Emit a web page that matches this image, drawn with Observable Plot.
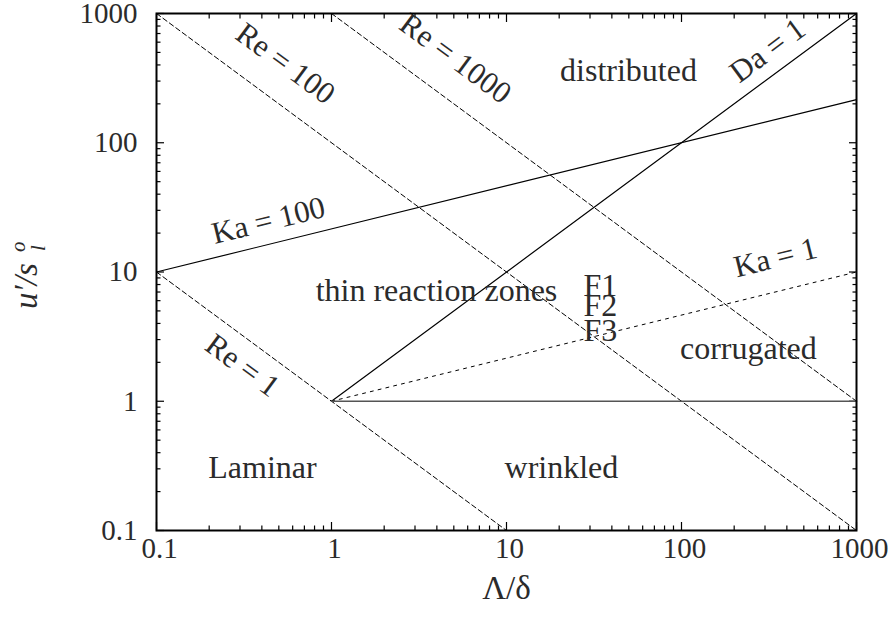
<!DOCTYPE html>
<html><head><meta charset="utf-8">
<script src="https://cdn.jsdelivr.net/npm/d3@7"></script>
<script src="https://cdn.jsdelivr.net/npm/@observablehq/plot@0.6"></script>
<style>body{margin:0;background:#fff} svg{display:block}</style>
</head><body><div id="chart"></div>
<script>
// axis ticks
const xTicks = [0.1, 1, 10, 100, 1000];
const yTicks = [0.1, 1, 10, 100, 1000];
const tickLabels = ["0.1", "1", "10", "100", "1000"];

// dashed Reynolds-number lines
const reNames = ["Re = 1", "Re = 100", "Re = 1000"];
const reX = [[0.1, 10], [0.1, 1000], [1, 1000]];
const reY = [[10, 0.1], [1000, 0.1], [1000, 1]];

// solid lines
const solidNames = ["Ka = 100", "Da = 1"];
const solidX = [[0.1, 1000], [1, 1000]];
const solidY = [[10, 215.4], [1, 1000]];

// dotted Ka = 1 line
const ka1X = [1, 1000];
const ka1Y = [1, 10];

// horizontal u'/s = 1 line
const unitX = [1, 1000];
const unitY = [1, 1];

// line labels
const lineLabels = ["Re = 100", "Re = 1000", "Re = 1", "Ka = 100", "Ka = 1", "Da = 1"];
const lineLabelX = [0.546, 5.11, 0.31, 0.436, 344, 310];
const lineLabelY = [410, 449, 1.89, 25.0, 12.9, 517];
const lineLabelAngle = [36.45, 36.45, 36.45, -13.85, -13.85, -36.45];

// region labels
const regionNames = ["distributed", "thin reaction zones", "F1", "F2", "F3", "corrugated", "Laminar", "wrinkled"];
const regionX = [49.8, 3.98, 34.4, 34.4, 34.4, 241, 0.403, 20.6];
const regionY = [362, 7.19, 7.86, 5.5, 3.53, 2.56, 0.307, 0.307];

// minor ticks (2..9 within each decade)
const minor = [];
for (const d of [0.1, 1, 10, 100]) for (let k = 2; k <= 9; k++) minor.push(+(d * k).toPrecision(3));

const seg = (xs, ys, name) => xs.map((x, i) => ({x, y: ys[i], name}));
const reData = reNames.flatMap((n, i) => seg(reX[i], reY[i], n));
const solidData = solidNames.flatMap((n, i) => seg(solidX[i], solidY[i], n));
const ka1Data = seg(ka1X, ka1Y, "Ka = 1");
const unitData = seg(unitX, unitY, "unit");
const lineLabelData = lineLabels.map((t, i) => ({t, x: lineLabelX[i], y: lineLabelY[i], a: lineLabelAngle[i]}));
const regionData = regionNames.map((t, i) => ({t, x: regionX[i], y: regionY[i]}));
const tickData = xTicks.map((v, i) => ({v, t: tickLabels[i]}));

const FONT = "Liberation Serif";
const TXT = "#2b2b2b";
const blank = () => "";

const tickAxes = [];
for (const anchor of ["bottom", "top"]) {
  tickAxes.push(Plot.axisX(xTicks, {anchor, tickSize: -8, tickFormat: blank, label: null, strokeWidth: 1.2}));
  tickAxes.push(Plot.axisX(minor, {anchor, tickSize: -4.5, tickFormat: blank, label: null, strokeWidth: 1.2}));
}
for (const anchor of ["left", "right"]) {
  tickAxes.push(Plot.axisY(yTicks, {anchor, tickSize: -8, tickFormat: blank, label: null, strokeWidth: 1.2}));
  tickAxes.push(Plot.axisY(minor, {anchor, tickSize: -4.5, tickFormat: blank, label: null, strokeWidth: 1.2}));
}

const T = (data, opts) => Plot.text(data, {fontFamily: FONT, fill: TXT, ...opts});

const chart = Plot.plot({
  width: 893,
  height: 618,
  marginLeft: 156,
  marginRight: 37,
  marginTop: 13,
  marginBottom: 88,
  style: {background: "#fff"},
  x: {type: "log", domain: [0.1, 1000]},
  y: {type: "log", domain: [0.1, 1000]},
  marks: [
    ...tickAxes,
    Plot.line(reData, {x: "x", y: "y", z: "name", stroke: "#000", strokeWidth: 1, strokeDasharray: "5,3"}),
    Plot.line(solidData, {x: "x", y: "y", z: "name", stroke: "#000", strokeWidth: 1.2}),
    Plot.line(ka1Data, {x: "x", y: "y", stroke: "#000", strokeWidth: 1, strokeDasharray: "3,5"}),
    Plot.line(unitData, {x: "x", y: "y", stroke: "#555", strokeWidth: 1.6}),
    T(lineLabelData, {x: "x", y: "y", text: "t", rotate: "a", fontSize: 31}),
    T(regionData, {x: "x", y: "y", text: "t", fontSize: 32}),
    // tick labels
    T(tickData, {x: "v", text: "t", frameAnchor: "bottom", dy: 27, dx: 3, fontSize: 29}),
    T(tickData, {y: "v", text: "t", frameAnchor: "left", dx: -19, textAnchor: "end", fontSize: 29}),
    // axis labels
    T(["Λ/δ"], {frameAnchor: "bottom", dy: 68, fontSize: 33}),
    T(["u′/s"], {frameAnchor: "left", dx: -130, dy: 37, textAnchor: "start", rotate: -90, fontSize: 33, fontStyle: "italic"}),
    T(["o"], {frameAnchor: "left", dx: -138, dy: -20, rotate: -90, fontSize: 21, fontStyle: "italic"}),
    T(["l"], {frameAnchor: "left", dx: -118, dy: -21, rotate: -90, fontSize: 21, fontStyle: "italic"}),
    Plot.frame({stroke: "#000", strokeWidth: 2})
  ]
});
document.getElementById("chart").appendChild(chart);
</script>
</body></html>
